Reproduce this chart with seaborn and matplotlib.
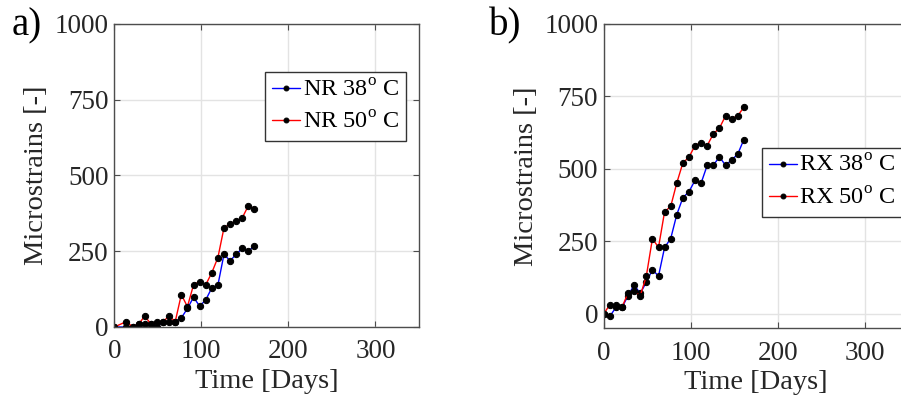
import matplotlib
matplotlib.use("Agg")
import matplotlib.pyplot as plt
import seaborn as sns
import pandas as pd

# ---- data ----
days_a = [0, 14, 21, 28, 35, 42, 49, 56, 63, 70, 77, 84, 91, 98, 105, 112, 119, 126, 133, 140, 147, 154, 161]
nr38 = [0, 0, 0, 10, 10, 10, 0, 18, 18, 18, 30, 61, 98, 69, 89, 129, 138, 240, 218, 240, 259, 250, 268]
nr50 = [0, 18, 0, 10, 36, 10, 18, 18, 36, 18, 107, 67, 139, 150, 139, 179, 229, 327, 340, 349, 360, 400, 389]

days_b = [0, 7, 14, 21, 28, 35, 42, 49, 56, 63, 70, 77, 84, 91, 98, 105, 112, 119, 126, 133, 140, 147, 154, 161]
rx38 = [0, -9, 22, 22, 62, 100, 70, 109, 152, 130, 229, 259, 342, 400, 421, 460, 451, 512, 512, 541, 512, 530, 550, 600]
rx50 = [0, 31, 31, 22, 72, 80, 62, 130, 259, 229, 352, 370, 451, 520, 540, 580, 590, 580, 620, 640, 682, 673, 682, 712]

labels_a = ["NR 38$^{\\mathrm{o}}$ C", "NR 50$^{\\mathrm{o}}$ C"]
labels_b = ["RX 38$^{\\mathrm{o}}$ C", "RX 50$^{\\mathrm{o}}$ C"]
xticks = [0, 100, 200, 300]
yticks = [0, 250, 500, 750, 1000]

sns.set_theme(style="whitegrid")
plt.rcParams["font.family"] = ["Liberation Serif", "DejaVu Serif"]
plt.rcParams["mathtext.fontset"] = "custom"
plt.rcParams["mathtext.rm"] = "Liberation Serif"

TXT = "#262626"
fig = plt.figure(figsize=(9.01, 4.01), dpi=100)
ax_a = fig.add_axes([114.3 / 901, 1 - 327 / 401, 304.7 / 901, 303.3 / 401])
ax_b = fig.add_axes([603.7 / 901, 1 - 328.3 / 401, 304.5 / 901, 304.6 / 401])


def draw(ax, days, s1, s2, labels, ylim, leg_anchor):
    df = pd.concat([
        pd.DataFrame({"Time": days, "Value": s1, "Series": labels[0]}),
        pd.DataFrame({"Time": days, "Value": s2, "Series": labels[1]}),
    ])
    sns.lineplot(data=df, x="Time", y="Value", hue="Series",
                 palette={labels[0]: "blue", labels[1]: "red"},
                 marker="o", markersize=4.5, markerfacecolor="black",
                 markeredgecolor="black", linewidth=1, ax=ax, sort=False)
    ax.set_xlim(0, 350)
    ax.set_ylim(*ylim)
    ax.set_xticks(xticks)
    ax.set_yticks(yticks)
    ax.grid(True, color="#e3e3e3", linewidth=1)
    for sp in ax.spines.values():
        sp.set_color("#4d4d4d")
        sp.set_linewidth(1)
    ax.tick_params(direction="in", length=4, width=0.8, color="#4d4d4d",
                   labelsize=19.5, labelcolor=TXT, top=True, right=True,
                   bottom=True, left=True)
    ax.tick_params(axis="x", pad=9)
    ax.tick_params(axis="y", pad=4)
    ax.set_xlabel("Time [Days]", fontsize=20.5, color=TXT, labelpad=3)
    ax.set_ylabel("Microstrains [-]", fontsize=20.5, color=TXT, labelpad=4)
    leg = ax.legend(loc="upper left", bbox_to_anchor=leg_anchor,
                    bbox_transform=fig.transFigure, fontsize=17.5,
                    frameon=True, fancybox=False, framealpha=1,
                    edgecolor="#333333", handlelength=1.15,
                    handletextpad=0.1, borderpad=0.3, borderaxespad=0,
                    labelspacing=0.42, title=None)
    leg.get_frame().set_linewidth(1)
    for h in leg.legend_handles:
        h.set_markersize(3.5)
    for t in leg.get_texts():
        t.set_color("black")


draw(ax_a, days_a, nr38, nr50, labels_a, (0, 1000), (265 / 901, 1 - 72.3 / 401))
draw(ax_b, days_b, rx38, rx50, labels_b, (-50, 1000), (761.7 / 901, 1 - 147.7 / 401))

fig.text(12 / 901, 1 - 26 / 401, "a)", fontsize=28, color="black", va="center", ha="left")
fig.text(489 / 901, 1 - 26 / 401, "b)", fontsize=28, color="black", va="center", ha="left")

fig.savefig("out.png", dpi=100, facecolor="white")
